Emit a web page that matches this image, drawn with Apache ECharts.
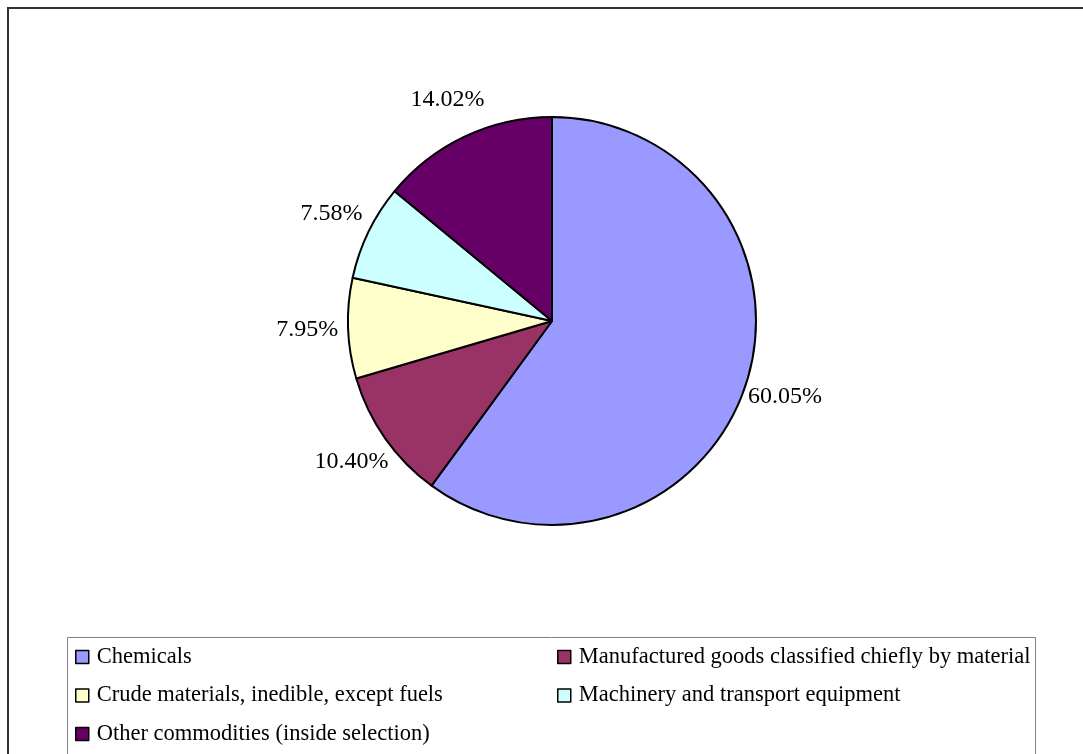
<!DOCTYPE html>
<html>
<head>
<meta charset="utf-8">
<script src="https://cdn.jsdelivr.net/npm/echarts@6/dist/echarts.min.js"></script>
<style>
  html, body { margin: 0; padding: 0; background: #fff; }
  #chart { width: 1083px; height: 754px; }
</style>
</head>
<body>
<div id="chart"></div>
<script>
// Commodity groups and their shares (%)
const categories = [
  'Chemicals',
  'Manufactured goods classified chiefly by material',
  'Crude materials, inedible, except fuels',
  'Machinery and transport equipment',
  'Other commodities (inside selection)'
];
const shares = [60.05, 10.40, 7.95, 7.58, 14.02];
const colors = ['#9999FF', '#993366', '#FFFFCC', '#CCFFFF', '#660066'];

// Legend columns (two-column layout, row-major order)
const legendLeftColumn = [categories[0], categories[2], categories[4]];
const legendRightColumn = [categories[1], categories[3]];

const FONT = '"Liberation Serif", "Times New Roman", serif';
const CX = 552, CY = 321, R = 204;
const LABEL_DIST = 245;

const total = shares.reduce((a, b) => a + b, 0);
// mid angle of each slice, clockwise from 12 o'clock
const midAngles = [];
{
  let acc = 0;
  shares.forEach(v => {
    midAngles.push((acc + v / 2) / total * Math.PI * 2);
    acc += v;
  });
}

const chart = echarts.init(document.getElementById('chart'), null, { renderer: 'canvas' });

const legendCommon = {
  orient: 'vertical',
  icon: 'rect',
  padding: 0,
  height: 200,
  itemWidth: 13,
  itemHeight: 13,
  itemGap: 14.5,
  selectedMode: false,
  itemStyle: { borderColor: '#000', borderWidth: 1.5 },
  textStyle: {
    fontFamily: FONT,
    fontSize: 22.5,
    color: '#000',
    lineHeight: 24,
    padding: [0, 0, 0, 3]
  }
};

chart.setOption({
  animation: false,
  backgroundColor: '#fff',
  color: colors,
  graphic: [
    {
      type: 'rect',
      shape: { x: 8, y: 8, width: 1200, height: 900 },
      style: { fill: 'none', stroke: '#333', lineWidth: 2 },
      silent: true
    },
    {
      type: 'rect',
      shape: { x: 67.5, y: 637.5, width: 968, height: 200 },
      style: { fill: 'none', stroke: '#808080', lineWidth: 1 },
      silent: true
    }
  ],
  legend: [
    Object.assign({}, legendCommon, { left: 75, top: 645, data: legendLeftColumn }),
    Object.assign({}, legendCommon, { left: 557, top: 645, data: legendRightColumn })
  ],
  series: [{
    type: 'pie',
    center: [CX, CY],
    radius: R,
    startAngle: 90,
    clockwise: true,
    silent: true,
    emphasis: { disabled: true },
    itemStyle: { borderColor: '#000', borderWidth: 2 },
    label: {
      show: true,
      position: 'outside',
      fontFamily: FONT,
      fontSize: 24,
      color: '#000',
      formatter: p => p.value.toFixed(2) + '%'
    },
    labelLine: { show: false },
    labelLayout: function (params) {
      const a = midAngles[params.dataIndex];
      return {
        x: CX + LABEL_DIST * Math.sin(a),
        y: CY - LABEL_DIST * Math.cos(a),
        align: 'center',
        verticalAlign: 'middle'
      };
    },
    data: categories.map((name, i) => ({ name: name, value: shares[i] }))
  }]
});
</script>
</body>
</html>
